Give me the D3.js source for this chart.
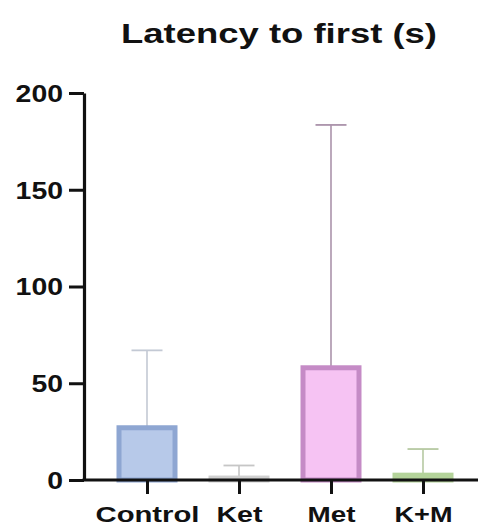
<!DOCTYPE html>
<html>
<head>
<meta charset="utf-8">
<script src="https://cdn.jsdelivr.net/npm/d3@7"></script>
<style>
  html, body { margin: 0; padding: 0; background: #fff; }
  svg { display: block; }
  text { font-family: "Liberation Sans", Arial, sans-serif; font-weight: bold; fill: #111; }
</style>
</head>
<body>
<svg id="chart" width="478" height="529"></svg>
<script>
// Group means and upper error (mean + SD) for latency to first event, in seconds
const categories = ["Control", "Ket", "Met", "K+M"];
const means = [27, 1, 58, 2.5];
const errorTops = [67, 7.5, 183.5, 16];
const yTicks = [0, 50, 100, 150, 200];
const fills = ["#b7c9e9", "#f0f0f0", "#f6c3f3", "#e3f0d6"];
const strokes = ["#8ea6d2", "#d0d0d0", "#c58bc6", "#b4d39a"];
const errColors = ["#c3c9d4", "#c6c6c6", "#ab93ab", "#b6c9a2"];

const svg = d3.select("#chart");

const y = d3.scaleLinear().domain([0, 200]).range([480, 93]);
const x = d3.scalePoint().domain(categories).range([101, 469]).padding(0.5);
const barW = 56;
const capW = 31;

// Title
svg.append("text")
  .attr("x", 279).attr("y", 43)
  .attr("text-anchor", "middle")
  .attr("font-size", 27)
  .attr("textLength", 316)
  .attr("lengthAdjust", "spacingAndGlyphs")
  .text("Latency to first (s)");

// Error bars (upper only)
const err = svg.append("g");
categories.forEach((c, i) => {
  const cx = x(c);
  err.append("line")
    .attr("x1", cx).attr("x2", cx)
    .attr("y1", y(means[i])).attr("y2", y(errorTops[i]))
    .attr("stroke", errColors[i]).attr("stroke-width", 1.6);
  err.append("line")
    .attr("x1", cx - capW / 2).attr("x2", cx + capW / 2)
    .attr("y1", y(errorTops[i])).attr("y2", y(errorTops[i]))
    .attr("stroke", errColors[i]).attr("stroke-width", 1.8);
});

// Bars
svg.append("g").selectAll("rect")
  .data(categories)
  .join("rect")
  .attr("x", d => x(d) - barW / 2)
  .attr("width", barW)
  .attr("y", (d, i) => y(means[i]))
  .attr("height", (d, i) => y(0) - y(means[i]))
  .attr("fill", (d, i) => fills[i])
  .attr("stroke", (d, i) => strokes[i])
  .attr("stroke-width", 5);

// Y axis
const yAxis = svg.append("g")
  .attr("transform", "translate(84,0)")
  .call(d3.axisLeft(y).tickValues(yTicks).tickSize(15).tickPadding(6).tickSizeOuter(0));
yAxis.select(".domain").attr("stroke", "#111").attr("stroke-width", 3.2);
yAxis.selectAll(".tick line").attr("stroke", "#111").attr("stroke-width", 3);
yAxis.selectAll(".tick text")
  .attr("font-size", 23)
  .attr("font-family", "Liberation Sans, Arial, sans-serif")
  .attr("font-weight", "bold")
  .attr("fill", "#111")
  .attr("dy", "0.36em")
  .attr("textLength", d => String(d).length * 15.8)
  .attr("lengthAdjust", "spacingAndGlyphs");

// X axis
const xAxis = svg.append("g")
  .attr("transform", "translate(0,480)")
  .call(d3.axisBottom(x).tickSize(14).tickPadding(12).tickSizeOuter(0));
xAxis.select(".domain").attr("d", "M82.5,0H478").attr("stroke", "#111").attr("stroke-width", 3.2);
xAxis.selectAll(".tick line").attr("stroke", "#111").attr("stroke-width", 3);
const labelW = { "Control": 104, "Ket": 46, "Met": 48, "K+M": 58 };
xAxis.selectAll(".tick text")
  .attr("font-size", 22)
  .attr("font-family", "Liberation Sans, Arial, sans-serif")
  .attr("font-weight", "bold")
  .attr("fill", "#111")
  .attr("textLength", d => labelW[d])
  .attr("lengthAdjust", "spacingAndGlyphs");
</script>
</body>
</html>
